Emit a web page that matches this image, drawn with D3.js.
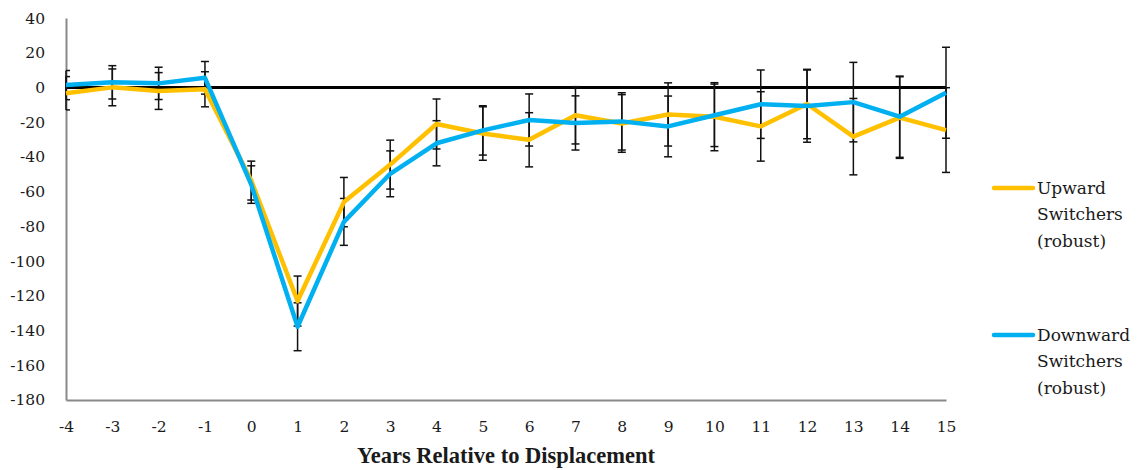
<!DOCTYPE html>
<html>
<head>
<meta charset="utf-8">
<script src="https://cdn.jsdelivr.net/npm/d3@7"></script>
<style>
  html, body { margin: 0; padding: 0; background: #fff; }
  svg { display: block; }
  svg text { fill: #1a1a1a; }
</style>
</head>
<body>
<svg id="chart" width="1148" height="470"></svg>
<script>
// ---- data ----
const years = [-4, -3, -2, -1, 0, 1, 2, 3, 4, 5, 6, 7, 8, 9, 10, 11, 12, 13, 14, 15];
const upward = [-3.3, 0.1, -2.0, -1.0, -53.6, -123, -66, -44.4, -21, -26.5, -30.1, -16, -20.7, -15.5, -16.8, -22.4, -9.5, -28.3, -17.3, -24.5];
const upwardErr = [9.6, 10.6, 10.6, 10.1, 11.2, 14.4, 14.2, 14.1, 14.4, 15.4, 15.6, 16.5, 16.6, 18.2, 19.6, 20.0, 20.0, 22.0, 23.5, 24.4];
const downward = [1.4, 3.0, 2.4, 5.6, -55.9, -137.8, -77.4, -49.7, -32.1, -24.7, -18.7, -20.4, -19.5, -22.4, -16.0, -9.6, -10.7, -8.4, -16.8, -3.0];
const downwardErr = [8.4, 9.6, 9.3, 9.4, 10.8, 13.8, 13.5, 13.2, 13.0, 14.2, 15.0, 15.6, 16.5, 17.5, 18.0, 19.7, 20.8, 22.9, 23.4, 26.2];
const yTicks = [40, 20, 0, -20, -40, -60, -80, -100, -120, -140, -160, -180];
const seriesNames = [["Upward", "Switchers", "(robust)"], ["Downward", "Switchers", "(robust)"]];
const seriesColors = ["#FFC000", "#00B0F0"];
const xTitle = "Years Relative to Displacement";

// ---- layout ----
const FONT = "'DejaVu Serif', serif";
const BOLD = "'Liberation Serif', 'DejaVu Serif', serif";
const svg = d3.select("#chart");
const x = d3.scaleLinear().domain([-4, 15]).range([66, 946]);
const y = d3.scaleLinear().domain([-180, 40]).range([400, 18.1]);

// axes
const yAxis = d3.axisLeft(y).tickValues(yTicks).tickSize(0).tickSizeOuter(0).tickPadding(21)
  .tickFormat(d => String(d));
const gy = svg.append("g").attr("transform", "translate(66,0)").call(yAxis);
gy.attr("font-family", null).attr("font-size", null);
gy.select(".domain").attr("stroke", "#898989").attr("stroke-width", 2);
gy.selectAll("text").style("font-size", "15.5px").style("font-family", FONT).attr("fill", "#1a1a1a");

const xAxis = d3.axisBottom(x).tickValues(years).tickSize(0).tickSizeOuter(0).tickPadding(21)
  .tickFormat(d => String(d));
const gx = svg.append("g").attr("transform", "translate(0,400)").call(xAxis);
gx.attr("font-family", null).attr("font-size", null);
gx.select(".domain").attr("stroke", "#898989").attr("stroke-width", 2);
gx.selectAll("text").style("font-size", "15.5px").style("font-family", FONT).attr("fill", "#1a1a1a");

// zero line
svg.append("line")
  .attr("x1", x(-4)).attr("x2", x(15))
  .attr("y1", y(0)).attr("y2", y(0))
  .attr("stroke", "#000").attr("stroke-width", 3);

// error bars
const series = [
  { vals: upward, err: upwardErr },
  { vals: downward, err: downwardErr }
];
const eb = svg.append("g").attr("stroke", "#111").attr("stroke-width", 1.5);
series.forEach(s => {
  years.forEach((yr, i) => {
    const cx = x(yr), hi = y(s.vals[i] + s.err[i]), lo = y(s.vals[i] - s.err[i]);
    eb.append("line").attr("x1", cx).attr("x2", cx).attr("y1", hi).attr("y2", lo);
    eb.append("line").attr("x1", Math.max(cx - 4, x(-4))).attr("x2", cx + 4).attr("y1", hi).attr("y2", hi);
    eb.append("line").attr("x1", Math.max(cx - 4, x(-4))).attr("x2", cx + 4).attr("y1", lo).attr("y2", lo);
  });
});

// lines
const line = d3.line().x((d, i) => x(years[i])).y(d => y(d));
series.forEach((s, k) => {
  svg.append("path").datum(s.vals)
    .attr("d", line)
    .attr("fill", "none")
    .attr("stroke", seriesColors[k])
    .attr("stroke-width", 4.5)
    .attr("stroke-linejoin", "round");
});

// x title
svg.append("text")
  .attr("x", (x(-4) + x(15)) / 2).attr("y", 463)
  .attr("text-anchor", "middle")
  .style("font-family", BOLD)
  .style("font-size", "22.5px").style("font-weight", "bold")
  .text(xTitle);

// legend
const legY = [188, 335];
seriesNames.forEach((lines, k) => {
  svg.append("line")
    .attr("x1", 994).attr("x2", 1033)
    .attr("y1", legY[k]).attr("y2", legY[k])
    .attr("stroke", seriesColors[k]).attr("stroke-width", 4.5).attr("stroke-linecap", "round");
  lines.forEach((t, j) => {
    svg.append("text")
      .attr("x", 1037).attr("y", legY[k] + j * 26.5)
      .attr("dy", "0.35em")
      .style("font-family", FONT)
      .style("font-size", "17px")
      .text(t);
  });
});
</script>
</body>
</html>
